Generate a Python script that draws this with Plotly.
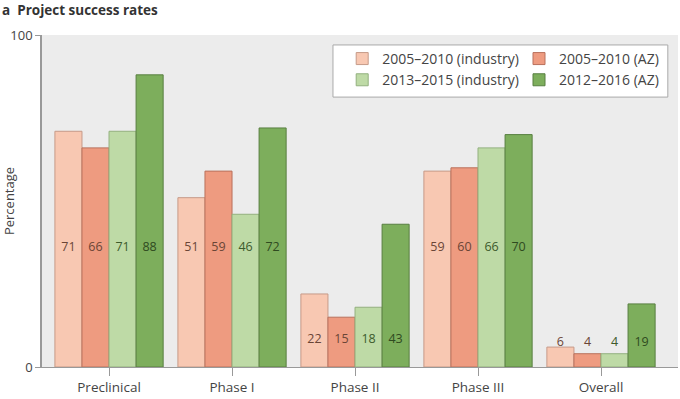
import plotly.graph_objects as go

categories = ["Preclinical", "Phase I", "Phase II", "Phase III", "Overall"]
series_names = ["2005–2010 (industry)", "2005–2010 (AZ)", "2013–2015 (industry)", "2012–2016 (AZ)"]
ind_2005_2010 = [71, 51, 22, 59, 6]
az_2005_2010 = [66, 59, 15, 60, 4]
ind_2013_2015 = [71, 46, 18, 66, 4]
az_2012_2016 = [88, 72, 43, 70, 19]
series_values = [ind_2005_2010, az_2005_2010, ind_2013_2015, az_2012_2016]

# vertical position (in axis units) where value labels are printed, per category
label_y = [35.8, 35.8, 8.1, 35.8, 7.3]

fill_colors = ["#f8c8b2", "#ee9b80", "#bedaa6", "#7dae5c"]
line_colors = ["#c69a88", "#b9715c", "#93b07f", "#587f40"]
text_colors = ["#6a4536", "#6a4536", "#3d5a2c", "#2f4a20"]
legend_ids = ["legend", "legend2", "legend", "legend2"]

bar_w = 0.22
offsets = [(-1.5 + j) * bar_w for j in range(4)]

fig = go.Figure()
for j, name in enumerate(series_names):
    xs = [i + offsets[j] for i in range(len(categories))]
    fig.add_trace(go.Bar(
        x=xs, y=series_values[j], width=bar_w, name=name, legend=legend_ids[j],
        marker=dict(color=fill_colors[j], line=dict(color=line_colors[j], width=1)),
        hoverinfo="y",
    ))
for j in range(4):
    xs = [i + offsets[j] for i in range(len(categories))]
    fig.add_trace(go.Scatter(
        x=xs, y=label_y, mode="text", text=[str(v) for v in series_values[j]],
        textfont=dict(family="Open Sans", size=12.5, color=text_colors[j]),
        showlegend=False, hoverinfo="skip",
    ))

legend_style = dict(
    orientation="v", yanchor="top", y=0.976, bgcolor="rgba(0,0,0,0)", borderwidth=0,
    font=dict(family="Open Sans", size=14, color="#444"), traceorder="normal",
)

fig.update_layout(
    width=680, height=399,
    margin=dict(l=42, r=2, t=35, b=32, autoexpand=False),
    paper_bgcolor="white", plot_bgcolor="#ececec",
    font=dict(family="Open Sans", size=13, color="#444"),
    barmode="overlay",
    title=dict(text="<b>a</b>  <b>Project success rates</b>", x=0.003, xanchor="left",
               y=0.986, yanchor="top", font=dict(family="Open Sans", size=13.5, color="#333")),
    legend=dict(x=0.472, xanchor="left", **legend_style),
    legend2=dict(x=0.750, xanchor="left", **legend_style),
    shapes=[dict(type="rect", xref="paper", yref="paper", x0=0.4575, x1=0.984,
                 y0=0.813, y1=0.97, fillcolor="white", line=dict(color="#aaaaaa", width=1),
                 layer="above")],
    xaxis=dict(
        range=[-0.545, 4.626], tickvals=list(range(len(categories))), ticktext=categories,
        showgrid=False, zeroline=False, showline=True, linecolor="#999", linewidth=1,
        ticks="outside", ticklen=8, tickcolor="#999", tickfont=dict(size=13.5, color="#444"),
        automargin=False,
    ),
    yaxis=dict(
        range=[0, 100], tickvals=[0, 100], showgrid=False, zeroline=False,
        showline=True, linecolor="#999", linewidth=1.5, ticks="outside", ticklen=5,
        tickcolor="#999", tickfont=dict(size=13, color="#444"),
        title=dict(text="Percentage", font=dict(size=13, color="#444"), standoff=6),
        automargin=False,
    ),
)

fig.write_html("out.html", config={"displayModeBar": False},
               post_script="document.body.style.margin='0px';")
